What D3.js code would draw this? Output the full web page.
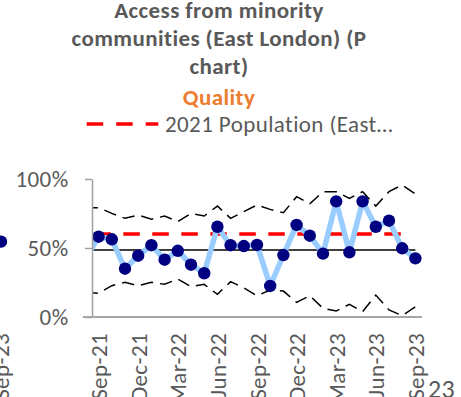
<!DOCTYPE html>
<html>
<head>
<meta charset="utf-8">
<script src="https://cdn.jsdelivr.net/npm/d3@7"></script>
<style>
  html, body { margin: 0; padding: 0; background: #fff; }
  svg { display: block; }
  text { font-family: Carlito, Calibri, Lato, sans-serif; letter-spacing: 0.4px; }
</style>
</head>
<body>
<svg id="chart" width="461" height="397"></svg>
<script>
// Monthly periods (Aug-21 sits just before the visible axis start and is clipped)
const months = ["Aug-21","Sep-21","Oct-21","Nov-21","Dec-21","Jan-22","Feb-22","Mar-22","Apr-22",
  "May-22","Jun-22","Jul-22","Aug-22","Sep-22","Oct-22","Nov-22","Dec-22","Jan-23","Feb-23",
  "Mar-23","Apr-23","May-23","Jun-23","Jul-23","Aug-23","Sep-23"];

// Proportion of access from minority communities per month
const proportion = [0.42,0.582,0.563,0.350,0.444,0.520,0.415,0.480,0.379,0.317,0.654,0.520,0.514,
  0.522,0.225,0.449,0.667,0.589,0.459,0.838,0.469,0.838,0.654,0.698,0.498,0.425];

// P chart control limits
const upperLimit = [0.79,0.792,0.751,0.715,0.739,0.708,0.732,0.691,0.751,0.732,0.804,0.715,0.763,
  0.812,0.780,0.756,0.872,0.820,0.908,0.908,0.860,0.908,0.804,0.908,0.957,0.891];
const lowerLimit = [0.18,0.172,0.227,0.251,0.227,0.251,0.237,0.275,0.220,0.237,0.164,0.256,0.212,
  0.154,0.196,0.188,0.106,0.154,0.063,0.043,0.092,0.039,0.159,0.051,0.010,0.075];
const centreLine = 0.485;

// 2021 census population share (East London), reported through Aug-23
const populationShare = 0.601;
const populationMonths = months.slice(0, 25);

const yTicks = [0, 0.5, 1];
const xTickLabels = ["Sep-21","Dec-21","Mar-22","Jun-22","Sep-22","Dec-22","Mar-23","Jun-23","Sep-23"];

const titleLines = ["Access from minority", "communities (East London) (P", "chart)"];
const subtitle = "Quality";
const legendLabel = "2021 Population (East\u2026";

// Neighbouring panel fragments at the edges of the sheet
const neighbourLast = { month: "Sep-23", value: 0.546 };
const neighbourRightText = "23";

const svg = d3.select("#chart");

const plot = { left: 92, right: 422, top: 179, bottom: 317 };
const step = (plot.right - plot.left) / 25;

// 26 evenly spaced months, Sep-21 centred in the first visible slot
const x = d3.scalePoint()
  .domain(months)
  .range([plot.left - step / 2, plot.left - step / 2 + step * 25]);

const y = d3.scaleLinear().domain([0, 1]).range([plot.bottom, plot.top]);

const grey = "#595959";
const fontSize = 23;

// Title block
const title = svg.append("g");
const titleBase = [17.8, 46, 74.3];
titleLines.forEach((t, i) => {
  title.append("text")
    .attr("x", 219).attr("y", titleBase[i])
    .attr("text-anchor", "middle")
    .attr("font-weight", "bold")
    .attr("font-size", fontSize)
    .attr("fill", grey)
    .text(t);
});
title.append("text")
  .attr("x", 219).attr("y", 104.5)
  .attr("text-anchor", "middle")
  .attr("font-weight", "bold")
  .attr("font-size", fontSize)
  .attr("fill", "#ED7D31")
  .text(subtitle);

// Legend
const legend = svg.append("g");
legend.append("line")
  .attr("x1", 86.7).attr("x2", 158.3).attr("y1", 124).attr("y2", 124)
  .attr("stroke", "#FF0000").attr("stroke-width", 3.5)
  .attr("stroke-dasharray", "16.5,13");
legend.append("text")
  .attr("x", 165).attr("y", 132)
  .attr("font-size", fontSize)
  .attr("fill", grey)
  .text(legendLabel);

// Clip for series inside the plot area
svg.append("defs").append("clipPath").attr("id", "plotClip")
  .append("rect")
  .attr("x", plot.left).attr("y", 0)
  .attr("width", plot.right - plot.left + 10).attr("height", plot.bottom);

const series = svg.append("g").attr("clip-path", "url(#plotClip)");

const lineOf = (vals) => d3.line()
  .x((d, i) => x(months[i]))
  .y(d => y(d))(vals);

// Control limits
[upperLimit, lowerLimit].forEach(lim => {
  series.append("path")
    .attr("d", lineOf(lim))
    .attr("fill", "none")
    .attr("stroke", "#000")
    .attr("stroke-width", 1.5)
    .attr("stroke-dasharray", "12.5,7");
});

// Centre line
series.append("line")
  .attr("x1", plot.left).attr("x2", x("Sep-23"))
  .attr("y1", y(centreLine)).attr("y2", y(centreLine))
  .attr("stroke", "#000").attr("stroke-width", 1.5);

// Population share reference
const popLine = d3.line()
  .x(d => x(d))
  .y(() => y(populationShare));
const firstDash = plot.left + 2.3;
series.append("path")
  .attr("d", popLine(populationMonths))
  .attr("fill", "none")
  .attr("stroke", "#FF0000")
  .attr("stroke-width", 3.5)
  .attr("stroke-dasharray", "16.5,12.5")
  .attr("stroke-dashoffset", -(firstDash - x(populationMonths[0])));

// Monthly proportion
series.append("path")
  .attr("d", lineOf(proportion))
  .attr("fill", "none")
  .attr("stroke", "#99CCFF")
  .attr("stroke-width", 5.5)
  .attr("stroke-linejoin", "round");

series.selectAll("circle.pt")
  .data(proportion.map((v, i) => ({ m: months[i], v })))
  .join("circle")
  .attr("class", "pt")
  .attr("cx", d => x(d.m))
  .attr("cy", d => y(d.v))
  .attr("r", 6.2)
  .attr("fill", "#000080");

// Y axis
const yAxis = svg.append("g")
  .attr("transform", `translate(${plot.left},0)`)
  .call(d3.axisLeft(y).tickValues(yTicks).tickFormat(d3.format(".0%"))
    .tickSize(7).tickSizeOuter(0).tickPadding(16.5));
yAxis.select(".domain").attr("stroke", "#A0A0A0").attr("stroke-width", 1.5);
yAxis.selectAll(".tick line").attr("stroke", "#A0A0A0").attr("stroke-width", 1.5);
yAxis.selectAll(".tick text")
  .attr("font-size", fontSize)
  .attr("fill", grey)
  .attr("font-family", "Carlito, Calibri, Lato, sans-serif");

// X axis
const xAxis = svg.append("g")
  .attr("transform", `translate(0,${plot.bottom})`)
  .call(d3.axisBottom(x).tickValues(xTickLabels).tickSize(0).tickSizeOuter(0));
xAxis.select(".domain").remove();
xAxis.append("line")
  .attr("x1", plot.left - 9).attr("x2", plot.right)
  .attr("stroke", "#A6A6A6").attr("stroke-width", 2);
xAxis.selectAll(".tick text")
  .attr("font-size", fontSize)
  .attr("fill", grey)
  .attr("font-family", "Carlito, Calibri, Lato, sans-serif")
  .attr("transform", "rotate(-90)")
  .attr("text-anchor", "end")
  .attr("dy", "0.35em")
  .attr("x", -16)
  .attr("y", 0);

// Fragments of neighbouring panels on the same sheet
const panelOffset = x("Sep-23") - 1;
const leftPanel = svg.append("g").attr("transform", `translate(${-panelOffset},0)`);
leftPanel.append("circle")
  .attr("cx", x(neighbourLast.month))
  .attr("cy", y(neighbourLast.value))
  .attr("r", 6.2)
  .attr("fill", "#000080");
leftPanel.append("text")
  .attr("transform", `translate(${x(neighbourLast.month)},${plot.bottom + 16}) rotate(-90)`)
  .attr("text-anchor", "end")
  .attr("dy", "0.35em")
  .attr("font-size", fontSize)
  .attr("fill", grey)
  .text(neighbourLast.month);

svg.append("text")
  .attr("x", 428).attr("y", 398)
  .attr("font-size", 26)
  .attr("fill", grey)
  .text(neighbourRightText);
</script>
</body>
</html>
